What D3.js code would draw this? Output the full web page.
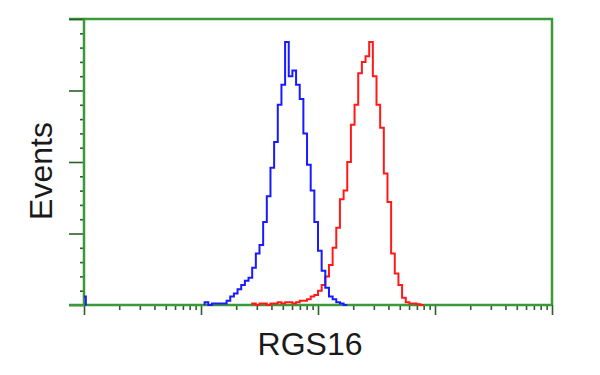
<!DOCTYPE html>
<html>
<head>
<meta charset="utf-8">
<script src="https://cdn.jsdelivr.net/npm/d3@7"></script>
<style>
  html, body { margin: 0; padding: 0; background: #fff; }
  svg { display: block; }
</style>
</head>
<body>
<svg id="chart"></svg>
<script>
// 1) Data ------------------------------------------------------------
const decades = [1, 10, 100, 1000, 10000];
const binWidth = 8;     // channels per histogram bin (1024 channels over 4 decades)
const firstBin = 32;    // bin index of the first value in each series
const blueCounts = [0, 1, 0, 0.5, 0.5, 0.5, 0.5, 1.5, 3, 4, 5.5, 7, 8.5, 9.5, 13, 18, 21, 29, 38, 48,
  57, 70, 77, 92, 80, 82, 77, 72, 60, 49, 40, 29, 19, 12, 6, 3, 2, 1, 0.5, 0];
const redCounts = [0, 0, 0, 0, 0, 0, 0, 0, 0, 0, 0, 0, 0, 0, 0.5, 0, 0.5, 0.5, 0, 0.5,
  0.5, 1, 0.5, 1, 1, 0.5, 1, 1.5, 1.5, 2, 3, 3.5, 5, 7, 10, 14, 20, 27, 37, 40,
  50, 63, 70, 81, 85, 87, 92, 80, 70, 62, 46, 36, 18, 11, 7, 2.5, 1, 0.5, 0.5, 0.3, 0];
const blueFirstChannel = 3; // events piled up in channel 0
const xLabel = 'RGS16';
const yLabel = 'Events';

// 2) Dimensions ------------------------------------------------------
const width = 600;
const height = 375;
const svg = d3.select('#chart')
  .attr('width', width)
  .attr('height', height);

const plotLeft = 84, plotRight = 552, plotTop = 19, plotBottom = 305;

const xLog = d3.scaleLog().domain([1, 10000]).range([plotLeft, plotRight]);
const xCh = d3.scaleLinear().domain([0, 1024]).range([plotLeft, plotRight]);
const y = d3.scaleLinear().domain([0, 100]).range([plotBottom, plotTop]);

const green = '#3a9a3a';
const tickColor = '#2b5f2b';

// 3) Frame -----------------------------------------------------------
svg.append('path')
  .attr('d', `M${plotLeft - 15},${plotTop}H${plotRight}V${plotBottom}`)
  .attr('fill', 'none')
  .attr('stroke', green)
  .attr('stroke-width', 2.5);

// 4) Axes ------------------------------------------------------------
function styleAxis(g) {
  g.select('.domain').remove();
  g.selectAll('.tick line').attr('stroke', tickColor).attr('stroke-width', 1.6);
  g.selectAll('.tick text').remove();
}

const yMinor = d3.range(0, 101, 5).filter(v => v % 25 !== 0);
const yMajor = d3.range(0, 101, 25);
svg.append('g').attr('transform', `translate(${plotLeft},0)`)
  .call(d3.axisLeft(y).tickValues(yMinor).tickSize(4).tickFormat(''))
  .call(styleAxis);
svg.append('g').attr('transform', `translate(${plotLeft},0)`)
  .call(d3.axisLeft(y).tickValues(yMajor).tickSize(15).tickFormat(''))
  .call(styleAxis);

const xMinor = [];
decades.slice(0, -1).forEach(d => { for (let k = 2; k <= 9; k++) xMinor.push(d * k); });
svg.append('g').attr('transform', `translate(0,${plotBottom})`)
  .call(d3.axisBottom(xLog).tickValues(xMinor).tickSize(5).tickFormat(''))
  .call(styleAxis);
svg.append('g').attr('transform', `translate(0,${plotBottom})`)
  .call(d3.axisBottom(xLog).tickValues(decades).tickSize(10).tickFormat(''))
  .call(styleAxis);

// axis lines
svg.append('line')
  .attr('x1', plotLeft).attr('x2', plotLeft).attr('y1', plotTop).attr('y2', plotBottom)
  .attr('stroke', green).attr('stroke-width', 2.5);
svg.append('line')
  .attr('x1', plotLeft - 15).attr('x2', plotRight).attr('y1', plotBottom).attr('y2', plotBottom)
  .attr('stroke', green).attr('stroke-width', 2.5);

// 5) Histograms ------------------------------------------------------
function stepPoints(counts) {
  let a = 0, b = counts.length - 1;
  while (a < b && counts[a] === 0) a++;
  while (b > a && counts[b] === 0) b--;
  const pts = [[(firstBin + a) * binWidth, 0]];
  for (let i = a; i <= b; i++) pts.push([(firstBin + i) * binWidth, counts[i]]);
  pts.push([(firstBin + b + 1) * binWidth, 0]);
  pts.push([(firstBin + b + 2) * binWidth, 0]);
  return pts;
}

const line = d3.line()
  .x(d => xCh(d[0]))
  .y(d => y(d[1]))
  .curve(d3.curveStepAfter);

svg.append('path')
  .attr('d', line(stepPoints(redCounts)))
  .attr('fill', 'none')
  .attr('stroke', '#ff1a1a')
  .attr('stroke-width', 2);

svg.append('path')
  .attr('d', line(stepPoints(blueCounts)))
  .attr('fill', 'none')
  .attr('stroke', '#1a1aff')
  .attr('stroke-width', 2);

svg.append('path')
  .attr('d', line([[0, blueFirstChannel], [4, 0], [5, 0]]))
  .attr('fill', 'none')
  .attr('stroke', '#1a1aff')
  .attr('stroke-width', 2);

// 6) Labels ----------------------------------------------------------
svg.append('text')
  .attr('x', 310)
  .attr('y', 355)
  .attr('text-anchor', 'middle')
  .attr('font-family', 'Liberation Sans, Arial, sans-serif')
  .attr('font-size', 32)
  .attr('fill', '#1a1a1a')
  .text(xLabel);

svg.append('text')
  .attr('transform', 'translate(52,171) rotate(-90)')
  .attr('text-anchor', 'middle')
  .attr('font-family', 'Liberation Sans, Arial, sans-serif')
  .attr('font-size', 32)
  .attr('fill', '#1a1a1a')
  .text(yLabel);
</script>
</body>
</html>
